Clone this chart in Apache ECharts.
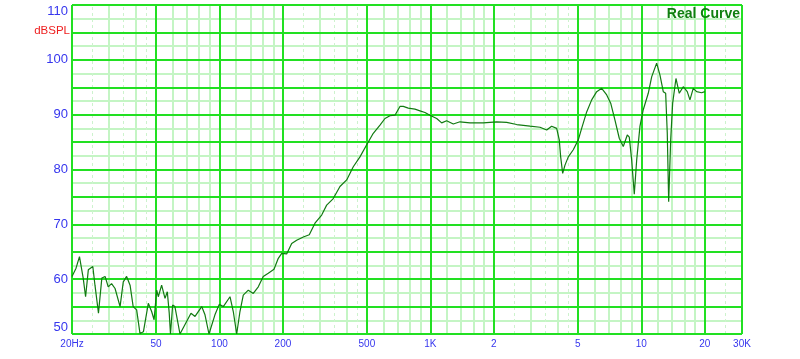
<!DOCTYPE html>
<html>
<head>
<meta charset="utf-8">
<script src="https://cdn.jsdelivr.net/npm/echarts@6/dist/echarts.min.js"></script>
<style>html,body{margin:0;padding:0;background:#fff}#c{width:800px;height:359px}</style>
</head>
<body>
<div id="c"></div>
<script>
// ---- data ----
const freqs = [20, 20.9, 21.7, 22.0, 22.6, 23.2, 23.9, 25.1, 25.7, 26.7,
  27.7, 28.7, 29.7, 30.8, 32.0, 33.8, 35.0, 36.3, 37.7, 39.0,
  40.5, 42.0, 43.6, 46.0, 47.7, 49.0, 50.4, 51.3, 53.2, 55.2,
  56.6, 57.8, 58.6, 60.0, 61.5, 65.0, 73.3, 76.6, 82.4, 85.4,
  89.2, 95.2, 99.8, 104.3, 112.2, 116.3, 120.7, 125.1, 129.7, 137.0,
  144.7, 152.8, 161.3, 170.4, 181.4, 190.1, 197.3, 208.3, 220.0, 232.3,
  249.8, 266.6, 283.7, 305.2, 322.3, 346.4, 372.6, 401.0, 430.9, 463.6,
  498.9, 536.1, 576.8, 609.1, 643.2, 679.3, 717.3, 743.7, 785.4, 844.9,
  892.4, 942.4, 995, 1071, 1131, 1194, 1284, 1381, 1540, 1781,
  2061, 2299, 2564, 2965, 3308, 3558, 3756, 3968, 4082, 4145,
  4237, 4345, 4505, 4757, 5024, 5212, 5506, 5815, 6142, 6487,
  6851, 7156, 7498, 7858, 8210, 8577, 8766, 8998, 9257, 9502,
  9851, 10210, 10784, 11192, 11818, 12254, 12704, 13039, 13270, 13476,
  13774, 14075, 14590, 15126, 15802, 16506, 16996, 17620, 18286, 19312,
  20000];
const spl = [60.5, 62.0, 64.1, 63.8, 60.2, 56.8, 61.7, 62.3, 58.9, 53.8,
  60.2, 60.5, 58.6, 59.2, 58.3, 55.0, 59.5, 60.5, 58.9, 55.0,
  54.4, 50.1, 50.4, 55.6, 54.1, 52.6, 58.0, 56.8, 58.9, 56.5,
  57.7, 53.8, 50, 55.3, 55.0, 50, 53.8, 53.2, 55.0, 53.5,
  50, 53.5, 55.4, 55.0, 56.8, 54.1, 50, 54.1, 57.1, 58.0,
  57.4, 58.6, 60.5, 61.1, 61.8, 63.8, 64.7, 64.6, 66.5, 67.1,
  67.7, 68.1, 70.2, 71.7, 73.5, 74.7, 76.9, 78.1, 80.5, 82.3,
  84.5, 86.6, 88.1, 89.3, 89.8, 89.9, 91.5, 91.5, 91.2, 91.0,
  90.7, 90.4, 89.9, 89.3, 88.5, 88.9, 88.3, 88.7, 88.5, 88.5,
  88.7, 88.6, 88.2, 87.9, 87.7, 87.2, 87.9, 87.5, 85.4, 82.3,
  79.3, 80.8, 82.3, 83.6, 85.4, 87.5, 90.5, 92.7, 94.2, 94.8,
  93.6, 92.1, 89.0, 85.7, 84.2, 86.3, 85.9, 81.7, 75.5, 81.7,
  87.9, 90.9, 93.9, 96.9, 99.4, 97.2, 94.2, 93.9, 86.6, 74.1,
  85.4, 92.1, 96.6, 93.9, 95.1, 94.2, 92.7, 94.8, 94.2, 94.0,
  94.2];

// tick labels
const xTickValues = [20, 50, 100, 200, 500, 1000, 2000, 5000, 10000, 20000, 30000];
const xTickLabels = ['20Hz', '50', '100', '200', '500', '1K', '2', '5', '10', '20', '30K'];
const yTickValues = [50, 60, 70, 80, 90, 100, 110];

// grid line positions
const xMajor = [20, 50, 100, 200, 500, 1000, 2000, 5000, 10000, 20000, 30000];
const xMinor = [30, 40, 60, 70, 80, 90, 120, 140, 160, 180, 300, 400, 600, 700, 800, 900,
  1200, 1400, 1600, 1800, 3000, 4000, 6000, 7000, 8000, 9000, 12000, 14000, 16000, 18000];
const xDashed = [25, 35, 45, 250, 350, 450, 2500, 3500, 4500, 25000];
const yMajor = [50, 55, 60, 65, 70, 75, 80, 85, 90, 95, 100, 105, 110];
const yMinor = [52.5, 57.5, 62.5, 67.5, 72.5, 77.5, 82.5, 87.5, 92.5, 97.5, 102.5, 107.5];

const MAJOR = '#22e022', MINOR = '#c4f5c4', DASH = '#cdf3cd';
const FONT = '"Liberation Sans", Arial, sans-serif';

const gridLines = [];
yMinor.forEach(v => gridLines.push({ yAxis: v, lineStyle: { color: MINOR, width: 2, type: 'solid' } }));
xDashed.forEach(v => gridLines.push({ xAxis: v, lineStyle: { color: DASH, width: 1, type: [3, 3] } }));
xMinor.forEach(v => gridLines.push({ xAxis: v, lineStyle: { color: MINOR, width: 2, type: 'solid' } }));
yMajor.forEach(v => gridLines.push({ yAxis: v, lineStyle: { color: MAJOR, width: 2, type: 'solid' } }));
xMajor.forEach(v => gridLines.push({ xAxis: v, lineStyle: { color: MAJOR, width: 2, type: 'solid' } }));

const chart = echarts.init(document.getElementById('c'), null, { renderer: 'canvas' });
chart.setOption({
  animation: false,
  backgroundColor: '#ffffff',
  grid: { left: 72, right: 58, top: 5, bottom: 25, containLabel: false },
  xAxis: {
    type: 'log', logBase: 10, min: 20, max: 30000,
    axisLine: { show: false },
    axisTick: { show: false },
    splitLine: { show: false },
    minorSplitLine: { show: false },
    axisLabel: {
      customValues: xTickValues,
      color: '#3636ee', fontSize: 10, fontFamily: FONT, margin: 5,
      formatter: function (v) {
        let best = 0, bd = Infinity;
        xTickValues.forEach((t, i) => { const d = Math.abs(Math.log(v / t)); if (d < bd) { bd = d; best = i; } });
        return xTickLabels[best];
      }
    }
  },
  yAxis: {
    type: 'value', min: 50, max: 110, interval: 10,
    axisLine: { show: false },
    axisTick: { show: false },
    splitLine: { show: false },
    axisLabel: {
      customValues: yTickValues,
      color: '#3636ee', fontSize: 13, fontFamily: FONT, margin: 4,
      verticalAlignMaxLabel: 'top', verticalAlignMinLabel: 'bottom'
    }
  },
  graphic: [
    { type: 'text', x: 70, y: 31, style: { text: 'dBSPL', fill: '#ee2020', font: '11.5px ' + FONT, textAlign: 'right', textVerticalAlign: 'middle' } },
    { type: 'text', x: 740, y: 14.5, z: 10, style: { text: 'Real Curve', fill: '#0f7f0f', font: 'bold 14px ' + FONT, textAlign: 'right', textVerticalAlign: 'middle' } }
  ],
  series: [
    {
      type: 'line', z: 1, silent: true,
      data: [[20, 80]], showSymbol: false, lineStyle: { opacity: 0 },
      markLine: {
        silent: true, symbol: ['none', 'none'], animation: false,
        label: { show: false }, emphasis: { disabled: true },
        data: gridLines
      }
    },
    {
      type: 'line', z: 5, silent: true, showSymbol: false, smooth: false,
      lineStyle: { color: '#117a11', width: 1.2 },
      data: freqs.map((f, i) => [f, spl[i]])
    }
  ]
});
</script>
</body>
</html>
